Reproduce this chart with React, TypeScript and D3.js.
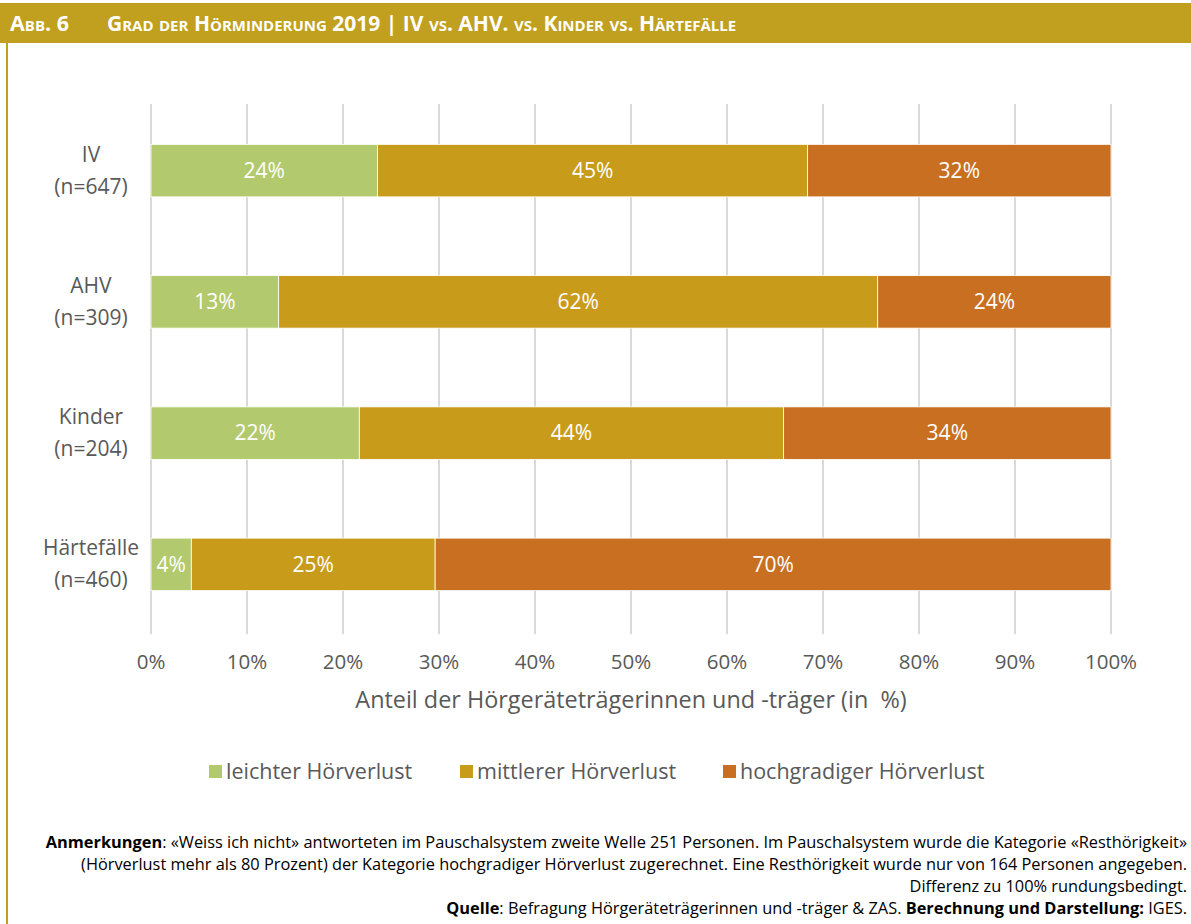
import React from "react";
import * as d3 from "d3";

const categories = ["IV", "AHV", "Kinder", "Härtefälle"];
const sampleSizes = ["n=647", "n=309", "n=204", "n=460"];
const seriesNames = ["leichter Hörverlust", "mittlerer Hörverlust", "hochgradiger Hörverlust"];
const leichter = [23.6, 13.3, 21.7, 4.2];
const mittlerer = [44.8, 62.4, 44.2, 25.4];
const hochgradig = [31.6, 24.3, 34.1, 70.4];
const xTicks = [0, 10, 20, 30, 40, 50, 60, 70, 80, 90, 100];
const colors = ["#B3C96E", "#C99B1B", "#C96F21"];

const W = 1191;
const H = 924;
const FONT = "'Open Sans', sans-serif";

export default function App() {
  const x = d3.scaleLinear().domain([0, 100]).range([151, 1111]);
  const y = d3.scaleBand<string>().domain(categories).range([105, 630]).paddingInner(0.6).paddingOuter(0.3);

  const table = categories.map((c, i) => ({
    cat: c,
    n: sampleSizes[i],
    vals: [leichter[i], mittlerer[i], hochgradig[i]],
  }));
  const stack = d3
    .stack<any>()
    .keys(["0", "1", "2"])
    .value((d: any, k: string) => d.vals[+k]);
  const stacked = stack(table as any);

  const legendX = [209, 460, 723];

  return (
    <div style={{ position: "absolute", left: 0, top: 0 }}>
      <svg width={W} height={H} style={{ display: "block", fontFamily: FONT }}>
        <rect x={0} y={0} width={W} height={H} fill="#fff" />
        {/* header */}
        <rect x={0} y={3} width={W} height={40} fill="#C0A01E" />
        <rect x={6} y={43} width={2} height={H - 43} fill="#C0A01E" />
        <text x={10} y={31} fill="#fff" fontWeight={700} fontSize={21.5} style={{ fontVariant: "small-caps" }}>
          Abb. 6
        </text>
        <text x={107} y={31} fill="#fff" fontWeight={700} fontSize={21} style={{ fontVariant: "small-caps" }}>
          Grad der Hörminderung 2019 | IV vs. AHV. vs. Kinder vs. Härtefälle
        </text>

        {/* gridlines */}
        {xTicks.map((t) => (
          <line key={t} x1={x(t)} x2={x(t)} y1={104} y2={634} stroke="#D9D9D9" strokeWidth={2} />
        ))}

        {/* bars */}
        {stacked.map((s, si) =>
          s.map((d, i) => (
            <g key={si + "-" + i}>
              <rect
                x={x(d[0])}
                y={y(categories[i])!}
                width={x(d[1]) - x(d[0])}
                height={y.bandwidth()}
                fill={colors[si]}
                stroke="#fff"
                strokeWidth={0.8}
              />
              <text
                x={(x(d[0]) + x(d[1])) / 2}
                y={y(categories[i])! + y.bandwidth() / 2}
                dy="0.35em"
                textAnchor="middle"
                fill="#fff"
                fontSize={21}
              >
                {Math.round(d[1] - d[0])}%
              </text>
            </g>
          ))
        )}

        {/* category labels */}
        {table.map((r) => (
          <g key={r.cat}>
            <text x={91} y={y(r.cat)! + y.bandwidth() / 2 - 9} textAnchor="middle" fill="#595959" fontSize={21}>
              {r.cat}
            </text>
            <text x={91} y={y(r.cat)! + y.bandwidth() / 2 + 23} textAnchor="middle" fill="#595959" fontSize={21}>
              ({r.n})
            </text>
          </g>
        ))}

        {/* x tick labels */}
        {xTicks.map((t) => (
          <text key={t} x={x(t)} y={669} textAnchor="middle" fill="#595959" fontSize={20.5}>
            {t}%
          </text>
        ))}
        <text x={631} y={708} textAnchor="middle" fill="#595959" fontSize={23.4} style={{ whiteSpace: "pre" }}>
          {"Anteil der Hörgeräteträgerinnen und -träger (in  %)"}
        </text>

        {/* legend */}
        {seriesNames.map((n, i) => (
          <g key={n}>
            <rect x={legendX[i]} y={765} width={13} height={13} fill={colors[i]} />
            <text x={legendX[i] + 17} y={779} fill="#595959" fontSize={21.5}>
              {n}
            </text>
          </g>
        ))}

        {/* notes */}
        <g fontSize={16.35} fill="#000" textAnchor="end">
          <text x={1187} y={848}>
            <tspan fontWeight={700}>Anmerkungen</tspan>: «Weiss ich nicht» antworteten im Pauschalsystem zweite Welle 251 Personen. Im Pauschalsystem wurde die Kategorie «Resthörigkeit»
          </text>
          <text x={1187} y={870}>
            (Hörverlust mehr als 80 Prozent) der Kategorie hochgradiger Hörverlust zugerechnet. Eine Resthörigkeit wurde nur von 164 Personen angegeben.
          </text>
          <text x={1187} y={892}>Differenz zu 100% rundungsbedingt.</text>
          <text x={1187} y={914}>
            <tspan fontWeight={700}>Quelle</tspan>: Befragung Hörgeräteträgerinnen und -träger &amp; ZAS. <tspan fontWeight={700}>Berechnung und Darstellung:</tspan> IGES.
          </text>
        </g>
      </svg>
    </div>
  );
}
